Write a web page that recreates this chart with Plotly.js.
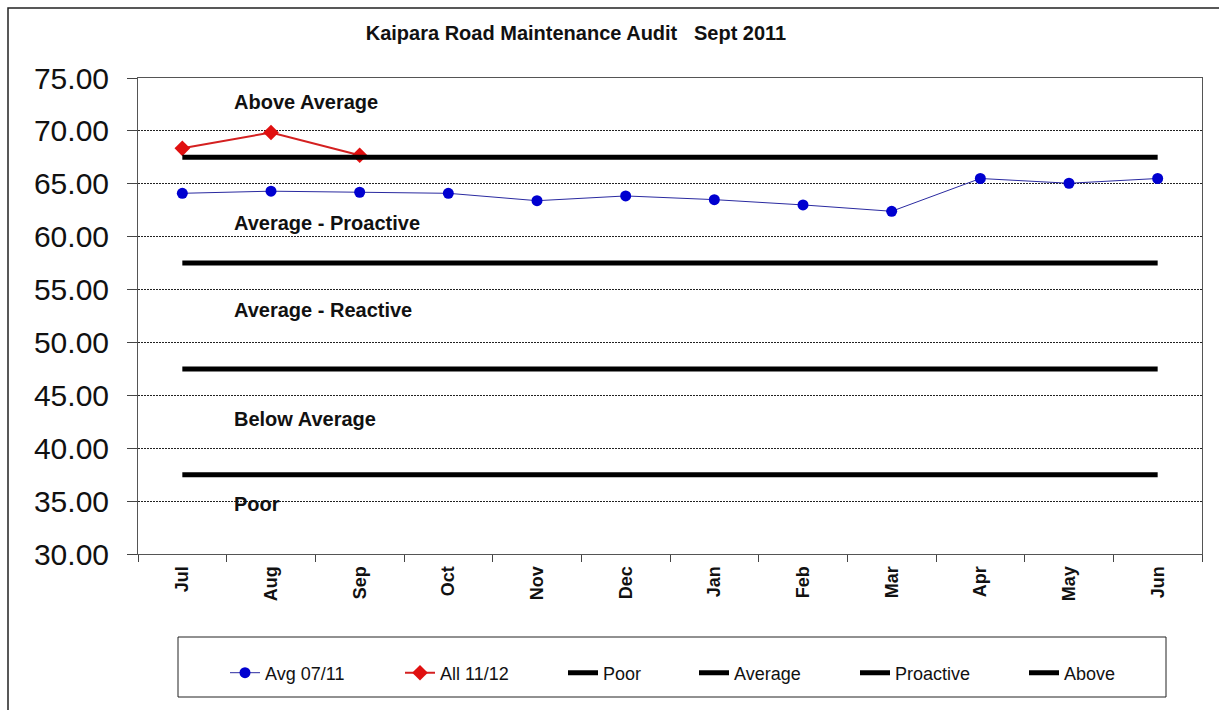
<!DOCTYPE html>
<html>
<head>
<meta charset="utf-8">
<script src="https://cdn.plot.ly/plotly-3.0.1.min.js"></script>
<style>html,body{margin:0;padding:0;background:#fff;}#chart{width:1219px;height:710px;}</style>
</head>
<body>
<div id="chart"></div>
<script>
const months = ["Jul","Aug","Sep","Oct","Nov","Dec","Jan","Feb","Mar","Apr","May","Jun"];
const avg0711 = [64.1, 64.3, 64.2, 64.1, 63.4, 63.85, 63.5, 63.0, 62.4, 65.5, 65.05, 65.5];
const all1112 = [68.35, 69.85, 67.7];
const poorLevel = 37.5;
const averageLevel = 47.5;
const proactiveLevel = 57.5;
const aboveLevel = 67.5;
const seriesNames = ["Avg 07/11", "All 11/12", "Poor", "Average", "Proactive", "Above"];
const bandLabels = ["Above Average", "Average - Proactive", "Average - Reactive", "Below Average", "Poor"];
const bandLabelY = [72.75, 61.3, 53.05, 42.75, 34.75];
const yTicks = [30, 35, 40, 45, 50, 55, 60, 65, 70, 75];

const W = 1219, H = 710;
const L = 138, R = 1202, T = 78, B = 554;
const px = x => (x - L) / (R - L);
const py = y => (B - y) / (B - T);
const legendIds = ['legend', 'legend2', 'legend3', 'legend4', 'legend5', 'legend6'];
const legendSymbolX = [230, 405, 568, 699, 860, 1029];

const levelTrace = (i, v) => ({
  type: 'scatter', mode: 'lines', name: seriesNames[i], legend: legendIds[i],
  x: months, y: months.map(() => v),
  line: {color: '#000', width: 5},
  hoverinfo: 'skip'
});

const traces = [
  {type:'scatter', mode:'lines+markers', name: seriesNames[0], legend: legendIds[0], x: months, y: avg0711,
   line:{color:'#2a2aa0', width:1}, marker:{color:'#0000d0', size:11, symbol:'circle'}},
  {type:'scatter', mode:'lines+markers', name: seriesNames[1], legend: legendIds[1], x: months.slice(0, all1112.length), y: all1112,
   line:{color:'#d42020', width:2}, marker:{color:'#e01010', size:12, symbol:'diamond'}},
  levelTrace(2, poorLevel),
  levelTrace(3, averageLevel),
  levelTrace(4, proactiveLevel),
  levelTrace(5, aboveLevel)
];

const labelFont = {family: 'Liberation Sans, Arial, sans-serif', size: 20, color: '#111', weight: 'bold'};
const annotations = bandLabels.map((t, i) => ({
  text: t, xref: 'paper', yref: 'y', x: px(232), y: bandLabelY[i],
  xanchor: 'left', yanchor: 'middle', showarrow: false, font: labelFont
}));

const layout = {
  width: W, height: H,
  margin: {l: L, r: W - R, t: T, b: H - B, pad: 0},
  paper_bgcolor: '#fff', plot_bgcolor: '#fff',
  title: {text: 'Kaipara Road Maintenance Audit\u00a0\u00a0\u00a0Sept 2011', x: 576 / W, xanchor: 'center', xref: 'container',
          y: 1 - 33 / H, yanchor: 'middle', yref: 'container',
          font: {family: 'Liberation Sans, Arial, sans-serif', size: 20, color: '#111', weight: 'bold'}},
  showlegend: true,
  xaxis: {type: 'category', range: [-0.5, 11.5], tickangle: -90, tickson: 'boundaries',
          ticks: 'outside', ticklen: 7, tickcolor: '#444', ticklabelstandoff: 4,
          showline: true, linecolor: '#555', linewidth: 1, mirror: true,
          showgrid: false, zeroline: false,
          tickfont: {family: 'Liberation Sans, Arial, sans-serif', size: 18, color: '#111', weight: 'bold'}},
  yaxis: {range: [30, 75], tickvals: yTicks, tickformat: '.2f', ticks: 'outside', ticklen: 10, tickcolor: '#444',
          ticklabelstandoff: 12,
          showline: true, linecolor: '#555', linewidth: 1, mirror: true,
          showgrid: true, gridcolor: '#222', gridwidth: 1, griddash: '2px,1px', zeroline: false,
          tickfont: {family: 'Liberation Sans, Arial, sans-serif', size: 30, color: '#111'}},
  annotations: annotations,
  shapes: [
    {type: 'rect', xref: 'paper', yref: 'paper', x0: px(8), x1: px(1240), y0: py(740), y1: py(8),
     line: {color: '#222', width: 1.5}, fillcolor: 'rgba(0,0,0,0)', layer: 'below'},
    {type: 'rect', xref: 'paper', yref: 'paper', x0: px(178), x1: px(1166), y0: py(697), y1: py(637),
     line: {color: '#222', width: 1}, fillcolor: 'rgba(0,0,0,0)', layer: 'below'}
  ]
};

legendIds.forEach((id, i) => {
  layout[id] = {orientation: 'h', x: px(legendSymbolX[i] - 5), xanchor: 'left', y: py(673), yanchor: 'middle',
                bgcolor: 'rgba(0,0,0,0)', borderwidth: 0,
                font: {family: 'Liberation Sans, Arial, sans-serif', size: 18, color: '#111'}};
});

Plotly.newPlot('chart', traces, layout, {displayModeBar: false, staticPlot: true});
</script>
</body>
</html>
